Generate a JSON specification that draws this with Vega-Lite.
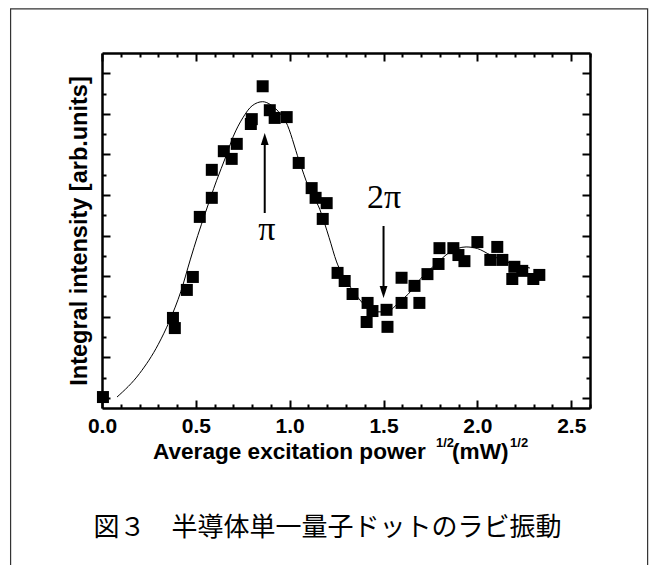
{
  "$schema": "https://vega.github.io/schema/vega-lite/v6.json",
  "width": 488,
  "height": 355,
  "autosize": {"type": "none"},
  "padding": {"left": 102, "top": 53, "right": 67, "bottom": 157},
  "background": "white",
  "datasets": {
    "points": [
      {"x": 0.005, "y": 0.02}, {"x": 0.378, "y": 1.97}, {"x": 0.388, "y": 1.72}, {"x": 0.452, "y": 2.66},
      {"x": 0.484, "y": 2.98}, {"x": 0.521, "y": 4.46}, {"x": 0.585, "y": 4.93}, {"x": 0.585, "y": 5.62},
      {"x": 0.649, "y": 6.08}, {"x": 0.691, "y": 5.89}, {"x": 0.718, "y": 6.26}, {"x": 0.793, "y": 6.75},
      {"x": 0.798, "y": 6.87}, {"x": 0.856, "y": 7.68}, {"x": 0.894, "y": 7.09}, {"x": 0.92, "y": 6.9},
      {"x": 0.984, "y": 6.92}, {"x": 1.048, "y": 5.79}, {"x": 1.117, "y": 5.17}, {"x": 1.138, "y": 4.93},
      {"x": 1.197, "y": 4.8}, {"x": 1.176, "y": 4.41}, {"x": 1.255, "y": 3.08}, {"x": 1.293, "y": 2.88},
      {"x": 1.335, "y": 2.56}, {"x": 1.415, "y": 2.34}, {"x": 1.441, "y": 2.14}, {"x": 1.41, "y": 1.87},
      {"x": 1.516, "y": 2.17}, {"x": 1.521, "y": 1.75}, {"x": 1.596, "y": 2.96}, {"x": 1.596, "y": 2.34},
      {"x": 1.665, "y": 2.76}, {"x": 1.691, "y": 2.34}, {"x": 1.734, "y": 3.05}, {"x": 1.793, "y": 3.3},
      {"x": 1.798, "y": 3.69}, {"x": 1.872, "y": 3.69}, {"x": 1.899, "y": 3.52}, {"x": 1.931, "y": 3.37},
      {"x": 2.0, "y": 3.84}, {"x": 2.069, "y": 3.4}, {"x": 2.106, "y": 3.72}, {"x": 2.133, "y": 3.4},
      {"x": 2.197, "y": 3.23}, {"x": 2.186, "y": 2.93}, {"x": 2.239, "y": 3.13}, {"x": 2.298, "y": 2.93},
      {"x": 2.33, "y": 3.03}
    ],
    "fit": [
      {"x": 0.08, "y": 0.02}, {"x": 0.2, "y": 0.6}, {"x": 0.3, "y": 1.32}, {"x": 0.36, "y": 1.9},
      {"x": 0.42, "y": 2.62}, {"x": 0.47, "y": 3.4}, {"x": 0.51, "y": 4.0}, {"x": 0.55, "y": 4.55},
      {"x": 0.61, "y": 5.35}, {"x": 0.66, "y": 5.95}, {"x": 0.7, "y": 6.45}, {"x": 0.75, "y": 6.9},
      {"x": 0.8, "y": 7.2}, {"x": 0.856, "y": 7.3}, {"x": 0.9, "y": 7.22}, {"x": 0.95, "y": 7.0},
      {"x": 0.98, "y": 6.8}, {"x": 1.05, "y": 5.85}, {"x": 1.1, "y": 5.2}, {"x": 1.16, "y": 4.65},
      {"x": 1.21, "y": 3.95}, {"x": 1.25, "y": 3.35}, {"x": 1.3, "y": 2.9}, {"x": 1.35, "y": 2.56},
      {"x": 1.4, "y": 2.28}, {"x": 1.45, "y": 2.12}, {"x": 1.52, "y": 2.12}, {"x": 1.58, "y": 2.35},
      {"x": 1.63, "y": 2.55}, {"x": 1.7, "y": 2.95}, {"x": 1.78, "y": 3.3}, {"x": 1.85, "y": 3.58},
      {"x": 1.94, "y": 3.72}, {"x": 2.0, "y": 3.68}, {"x": 2.07, "y": 3.52}, {"x": 2.17, "y": 3.33},
      {"x": 2.28, "y": 3.2}
    ]
  },
  "layer": [
    {
      "data": {"name": "points"},
      "mark": {"type": "point", "shape": "square", "filled": true, "color": "black", "size": 144, "opacity": 1},
      "encoding": {
        "x": {
          "field": "x", "type": "quantitative",
          "scale": {"domain": [0, 2.6], "nice": false, "zero": false},
          "axis": {
            "orient": "bottom",
            "values": [0, 0.1, 0.2, 0.3, 0.4, 0.5, 0.6, 0.7, 0.8, 0.9, 1, 1.1, 1.2, 1.3, 1.4, 1.5, 1.6, 1.7, 1.8, 1.9, 2, 2.1, 2.2, 2.3, 2.4, 2.5, 2.6],
            "labelExpr": "abs(datum.value*2 - round(datum.value*2)) < 0.001 ? format(datum.value, '.1f') : ''",
            "tickSize": {"condition": {"test": "abs(datum.value*2 - round(datum.value*2)) < 0.001", "value": -8}, "value": -4},
            "labelPadding": 15,
            "labelOverlap": false,
            "labelFlush": false,
            "labelBound": false,
            "title": null
          }
        },
        "y": {
          "field": "y", "type": "quantitative",
          "scale": {"domain": [-0.25, 8.5], "nice": false, "zero": false},
          "axis": {
            "orient": "left",
            "values": [0, 0.5, 1, 1.5, 2, 2.5, 3, 3.5, 4, 4.5, 5, 5.5, 6, 6.5, 7, 7.5, 8],
            "labels": false,
            "tickSize": {"condition": {"test": "abs(datum.value - round(datum.value)) < 0.001", "value": -8}, "value": -4},
            "title": "Integral intensity [arb.units]",
            "titleFontSize": 23.5,
            "titlePadding": 10
          }
        }
      }
    },
    {
      "data": {"name": "fit"},
      "mark": {"type": "line", "color": "black", "strokeWidth": 1, "interpolate": "monotone"},
      "encoding": {
        "x": {
          "field": "x", "type": "quantitative",
          "scale": {"domain": [0, 2.6], "nice": false, "zero": false},
          "axis": {
            "orient": "top",
            "values": [0, 0.1, 0.2, 0.3, 0.4, 0.5, 0.6, 0.7, 0.8, 0.9, 1, 1.1, 1.2, 1.3, 1.4, 1.5, 1.6, 1.7, 1.8, 1.9, 2, 2.1, 2.2, 2.3, 2.4, 2.5, 2.6],
            "labels": false,
            "tickSize": {"condition": {"test": "abs(datum.value*2 - round(datum.value*2)) < 0.001", "value": -8}, "value": -4},
            "title": null
          }
        },
        "y": {
          "field": "y", "type": "quantitative",
          "scale": {"domain": [-0.25, 8.5], "nice": false, "zero": false},
          "axis": {
            "orient": "right",
            "values": [0, 0.5, 1, 1.5, 2, 2.5, 3, 3.5, 4, 4.5, 5, 5.5, 6, 6.5, 7, 7.5, 8],
            "labels": false,
            "tickSize": {"condition": {"test": "abs(datum.value - round(datum.value)) < 0.001", "value": -8}, "value": -4},
            "title": null
          }
        }
      }
    },
    {
      "data": {"values": [{}]},
      "mark": {"type": "rule", "color": "black", "strokeWidth": 2},
      "encoding": {
        "x": {"datum": 0.867, "type": "quantitative", "axis": null},
        "y": {"datum": 4.556, "type": "quantitative", "axis": null},
        "y2": {"datum": 6.3}
      }
    },
    {
      "data": {"values": [{}]},
      "mark": {"type": "point", "shape": "M0,-1L0.65,1L-0.65,1Z", "filled": true, "color": "black", "size": 144, "opacity": 1},
      "encoding": {
        "x": {"datum": 0.867, "type": "quantitative", "axis": null},
        "y": {"datum": 6.38, "type": "quantitative", "axis": null}
      }
    },
    {
      "data": {"values": [{}]},
      "mark": {"type": "rule", "color": "black", "strokeWidth": 2},
      "encoding": {
        "x": {"datum": 1.5, "type": "quantitative", "axis": null},
        "y": {"datum": 4.236, "type": "quantitative", "axis": null},
        "y2": {"datum": 2.71}
      }
    },
    {
      "data": {"values": [{}]},
      "mark": {"type": "point", "shape": "M0,1L0.65,-1L-0.65,-1Z", "filled": true, "color": "black", "size": 144, "opacity": 1},
      "encoding": {
        "x": {"datum": 1.5, "type": "quantitative", "axis": null},
        "y": {"datum": 2.61, "type": "quantitative", "axis": null}
      }
    },
    {
      "data": {"values": [{}]},
      "mark": {"type": "text", "text": "π", "font": "Liberation Serif", "fontSize": 34, "color": "black", "align": "center", "baseline": "alphabetic"},
      "encoding": {
        "x": {"datum": 0.878, "type": "quantitative", "axis": null},
        "y": {"datum": 3.9, "type": "quantitative", "axis": null}
      }
    },
    {
      "data": {"values": [{}]},
      "mark": {"type": "text", "text": "2π", "font": "Liberation Serif", "fontSize": 34, "color": "black", "align": "center", "baseline": "alphabetic"},
      "encoding": {
        "x": {"datum": 1.503, "type": "quantitative", "axis": null},
        "y": {"datum": 4.68, "type": "quantitative", "axis": null}
      }
    },
    {
      "data": {"values": [{}]},
      "mark": {"type": "text", "text": "Average excitation power", "font": "Liberation Sans", "fontWeight": "bold", "fontSize": 22.6, "color": "black", "align": "left", "baseline": "middle"},
      "encoding": {
        "x": {"datum": 0.2717, "type": "quantitative", "axis": null},
        "y": {"datum": -1.331, "type": "quantitative", "axis": null}
      }
    },
    {
      "data": {"values": [{}]},
      "mark": {"type": "text", "text": "1/2", "font": "Liberation Sans", "fontWeight": "bold", "fontSize": 13, "color": "black", "align": "left", "baseline": "middle"},
      "encoding": {
        "x": {"datum": 1.779, "type": "quantitative", "axis": null},
        "y": {"datum": -1.12, "type": "quantitative", "axis": null}
      }
    },
    {
      "data": {"values": [{}]},
      "mark": {"type": "text", "text": "(mW)", "font": "Liberation Sans", "fontWeight": "bold", "fontSize": 22.6, "color": "black", "align": "left", "baseline": "middle"},
      "encoding": {
        "x": {"datum": 1.865, "type": "quantitative", "axis": null},
        "y": {"datum": -1.331, "type": "quantitative", "axis": null}
      }
    },
    {
      "data": {"values": [{}]},
      "mark": {"type": "text", "text": "1/2", "font": "Liberation Sans", "fontWeight": "bold", "fontSize": 13, "color": "black", "align": "left", "baseline": "middle"},
      "encoding": {
        "x": {"datum": 2.174, "type": "quantitative", "axis": null},
        "y": {"datum": -1.12, "type": "quantitative", "axis": null}
      }
    },
    {
      "data": {"values": [{}]},
      "mark": {"type": "text", "text": "図３　半導体単一量子ドットのラビ振動", "font": "Noto Sans CJK JP", "fontSize": 26, "color": "black", "align": "center", "baseline": "middle"},
      "encoding": {
        "x": {"datum": 1.2014, "type": "quantitative", "axis": null},
        "y": {"datum": -3.2, "type": "quantitative", "axis": null}
      }
    },
    {
      "data": {"values": [{}]},
      "mark": {"type": "rect", "fill": null, "fillOpacity": 0, "stroke": "#333333", "strokeWidth": 1.2},
      "encoding": {
        "x": {"datum": -0.487, "type": "quantitative", "axis": null},
        "x2": {"datum": 2.907},
        "y": {"datum": 9.586, "type": "quantitative", "axis": null},
        "y2": {"datum": -4.5}
      }
    }
  ],
  "resolve": {"axis": {"x": "independent", "y": "independent"}},
  "config": {
    "view": {"stroke": null},
    "axis": {
      "grid": false,
      "domainColor": "black",
      "domainWidth": 2.5,
      "tickColor": "black",
      "tickWidth": 2,
      "labelFont": "Liberation Sans",
      "labelFontWeight": "bold",
      "labelFontSize": 21,
      "labelColor": "black",
      "titleFont": "Liberation Sans",
      "titleFontWeight": "bold",
      "titleFontSize": 21,
      "titleColor": "black"
    }
  }
}
